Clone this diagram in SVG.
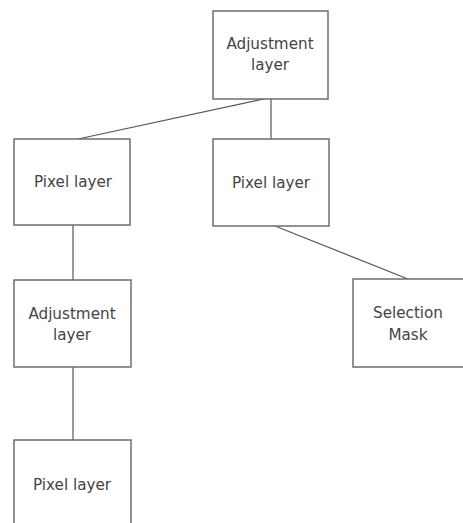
<svg xmlns="http://www.w3.org/2000/svg" width="463" height="523" viewBox="0 0 463 523">
<style>
.box{fill:#fff;stroke:#6e6e6e;stroke-width:1.5}
.lbl{font-family:"DejaVu Sans",sans-serif;font-size:15.2px;fill:#444;text-anchor:middle}
.edge{stroke:#555;stroke-width:1.2;fill:none}
</style>
<rect width="463" height="523" fill="#fff"/>
<g id="connectors">
<line class="edge" x1="268" y1="98" x2="78" y2="139"/>
<line class="edge" x1="271" y1="99" x2="271" y2="139"/>
<line class="edge" x1="275" y1="226" x2="408" y2="279"/>
<line class="edge" x1="73" y1="225" x2="73" y2="280"/>
<line class="edge" x1="73" y1="367" x2="73" y2="440"/>
</g>
<g id="adj-top">
<rect class="box" x="213" y="11" width="115" height="88"/>
<text class="lbl" x="270" y="49">Adjustment</text>
<text class="lbl" x="270" y="70">layer</text>
</g>
<g id="pixel-left">
<rect class="box" x="14" y="139" width="116" height="86"/>
<text class="lbl" x="73" y="187">Pixel layer</text>
</g>
<g id="pixel-right">
<rect class="box" x="213" y="139" width="116" height="87"/>
<text class="lbl" x="271" y="188">Pixel layer</text>
</g>
<g id="selection-mask">
<rect class="box" x="353" y="279" width="116" height="88"/>
<text class="lbl" x="408" y="318">Selection</text>
<text class="lbl" x="408" y="340">Mask</text>
</g>
<g id="adj-left">
<rect class="box" x="14" y="280" width="117" height="87"/>
<text class="lbl" x="72" y="319">Adjustment</text>
<text class="lbl" x="72" y="340">layer</text>
</g>
<g id="pixel-bottom">
<rect class="box" x="14" y="440" width="117" height="88"/>
<text class="lbl" x="72" y="490">Pixel layer</text>
</g>
</svg>
